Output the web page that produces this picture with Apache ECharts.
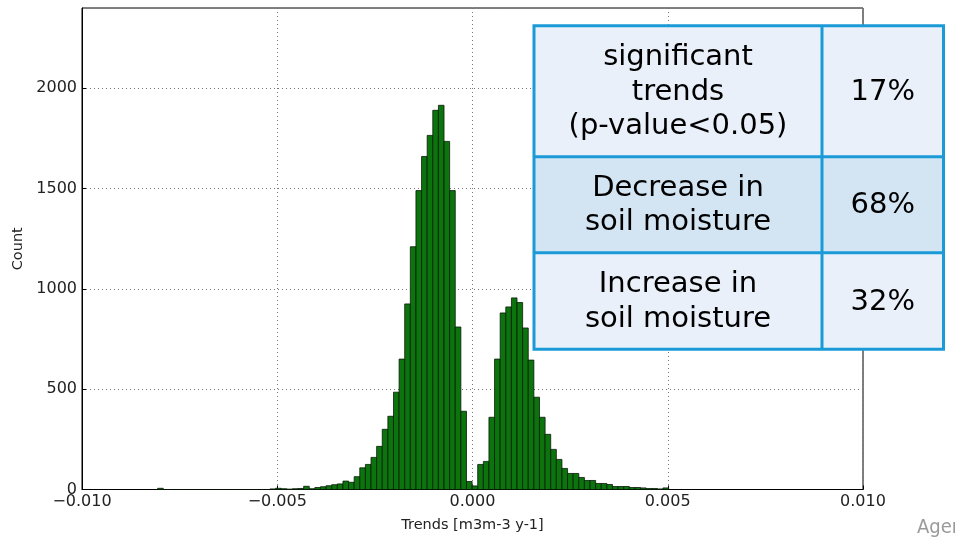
<!DOCTYPE html>
<html>
<head>
<meta charset="utf-8">
<script src="https://cdn.jsdelivr.net/npm/echarts@6/dist/echarts.min.js"></script>
<style>
html,body{margin:0;padding:0;background:#fff;}
#chart{width:955px;height:541px;}
</style>
</head>
<body>
<div id="chart"></div>
<script>
// Histogram data
const binStart = -0.008063;   // left edge of first bin
const binWidth = 0.0001438;   // bin width
const counts = [6, 0, 0, 0, 0, 0, 0, 0, 0, 0, 0, 0, 0, 0, 0, 0, 0, 0, 0, 0,
  3, 6, 4, 2, 4, 5, 16, 4, 10, 14, 19, 24, 28, 42, 36, 64, 108,
  125, 160, 215, 300, 365, 485, 650, 925, 1210, 1490,
  1660, 1765, 1890, 1915, 1735, 1490, 810, 390, 40, 18,
  125, 140, 360, 650, 880, 910, 955, 932, 805, 645,
  460, 360, 275, 200, 150, 105, 80, 80, 60, 45,
  45, 30, 30, 25, 15, 15, 15, 10, 10, 8,
  5, 5, 3, 8];
const xTicks = [-0.010, -0.005, 0.000, 0.005, 0.010];
const yTicks = [0, 500, 1000, 1500, 2000];
const xTitle = 'Trends [m3m-3 y-1]';
const yTitle = 'Count';

// Table overlay
const tableLabels = ['significant\ntrends\n(p-value<0.05)', 'Decrease in\nsoil moisture', 'Increase in\nsoil moisture'];
const tableValues = ['17%', '68%', '32%'];
const watermark = 'Ager';

const histData = counts.map((c, i) => [binStart + i * binWidth, binStart + (i + 1) * binWidth, c]);

const chart = echarts.init(document.getElementById('chart'), null, {renderer: 'canvas'});

const font = 'DejaVu Sans';
const tickLabel = {color: '#222', fontFamily: font, fontSize: 16};

// table geometry
const tL = 534, tR = 943.5, tM = 822, rows = [25.7, 156.7, 252.7, 349.3];
const fills = ['#e9f0f9', '#d3e4f2', '#e9f0f9'];
const border = '#1b9ad8';
const graphic = [];
for (let r = 0; r < 3; r++) {
  graphic.push({type: 'rect', z: 100, shape: {x: tL, y: rows[r], width: tR - tL, height: rows[r+1] - rows[r]}, style: {fill: fills[r]}});
}
for (let r = 0; r < 3; r++) {
  const cy = (rows[r] + rows[r+1]) / 2 + 1;
  graphic.push({type: 'text', z: 102, x: (tL + tM) / 2, y: cy,
    style: {text: tableLabels[r], font: '29px "DejaVu Sans"', fill: '#000', textAlign: 'center', textVerticalAlign: 'middle', lineHeight: 34.5}});
  graphic.push({type: 'text', z: 102, x: (tM + tR) / 2, y: cy,
    style: {text: tableValues[r], font: '29px "DejaVu Sans"', fill: '#000', textAlign: 'center', textVerticalAlign: 'middle'}});
}
const lineStyle = {stroke: border, lineWidth: 3};
graphic.push({type: 'rect', z: 101, shape: {x: tL, y: rows[0], width: tR - tL, height: rows[3] - rows[0]}, style: {fill: null, stroke: border, lineWidth: 3}});
graphic.push({type: 'line', z: 101, shape: {x1: tM, y1: rows[0], x2: tM, y2: rows[3]}, style: lineStyle});
graphic.push({type: 'line', z: 101, shape: {x1: tL, y1: rows[1], x2: tR, y2: rows[1]}, style: lineStyle});
graphic.push({type: 'line', z: 101, shape: {x1: tL, y1: rows[2], x2: tR, y2: rows[2]}, style: lineStyle});
graphic.push({type: 'text', z: 102, x: 917, y: 528,
  style: {text: watermark, font: '20px "Liberation Sans Narrow", "DejaVu Sans Condensed", sans-serif', fill: '#9a9a9a', textVerticalAlign: 'middle'}});

const fmtX = v => {
  const s = Math.abs(v).toFixed(3);
  return (v < -1e-12 ? '\u2212' : '') + s;
};

chart.setOption({
  animation: false,
  backgroundColor: '#fff',
  grid: {left: 82, right: 92, top: 8, bottom: 51.5, show: true, borderColor: '#000', borderWidth: 1, backgroundColor: 'transparent'},
  xAxis: {
    type: 'value', min: xTicks[0], max: xTicks[xTicks.length - 1], interval: 0.005,
    name: xTitle, nameLocation: 'middle', nameGap: 28,
    nameTextStyle: {color: '#222', fontFamily: font, fontSize: 14.5},
    axisLine: {show: true, onZero: false, lineStyle: {color: '#000', width: 1}},
    axisTick: {show: true, inside: true, length: 4, lineStyle: {color: '#000'}},
    axisLabel: Object.assign({formatter: fmtX, margin: 4, showMinLabel: true, showMaxLabel: true}, tickLabel),
    splitLine: {show: true, lineStyle: {color: '#777', type: [1, 3], width: 1}}
  },
  yAxis: {
    type: 'value', min: 0, max: 2400, interval: 500,
    name: yTitle, nameLocation: 'middle', nameGap: 48,
    nameTextStyle: {color: '#222', fontFamily: font, fontSize: 14.5},
    axisLine: {show: true, onZero: false, lineStyle: {color: '#000', width: 1}},
    axisTick: {show: true, inside: true, length: 4, lineStyle: {color: '#000'}},
    axisLabel: Object.assign({margin: 5, showMaxLabel: false, formatter: v => (v % 500 === 0 && v <= 2000) ? String(v) : ''}, tickLabel),
    splitLine: {show: true, lineStyle: {color: '#777', type: [1, 3], width: 1}}
  },
  series: [{
    type: 'custom',
    clip: true,
    data: histData,
    encode: {x: [0, 1], y: 2},
    renderItem: function (params, api) {
      const p0 = api.coord([api.value(0), api.value(2)]);
      const p1 = api.coord([api.value(1), 0]);
      return {
        type: 'rect',
        shape: {x: p0[0], y: p0[1], width: p1[0] - p0[0], height: p1[1] - p0[1]},
        style: {fill: '#0c740c', stroke: '#0a1a0a', lineWidth: 0.8}
      };
    }
  }],
  graphic: graphic
});
</script>
</body>
</html>
